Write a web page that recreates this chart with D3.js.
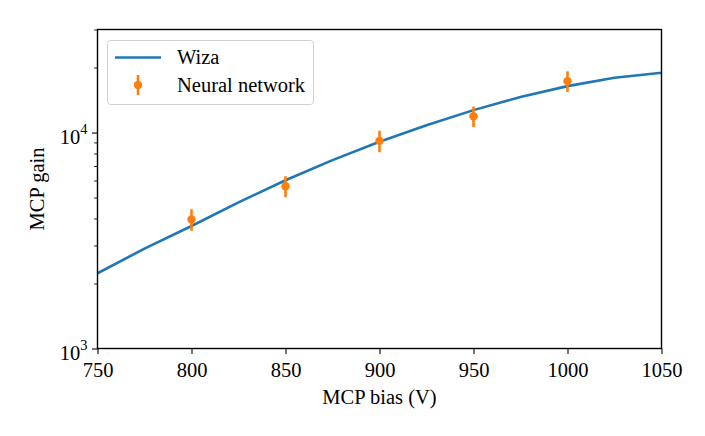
<!DOCTYPE html>
<html><head><meta charset="utf-8">
<script src="https://cdn.jsdelivr.net/npm/d3@7"></script>
<style>body{margin:0;background:#fff}svg{display:block}svg text{font-family:"Liberation Serif","Times New Roman","DejaVu Serif",serif !important}</style>
</head><body><svg id="c" width="705" height="436"></svg>
<script>
const wizaBias = [750,775,800,825,850,875,900,925,950,975,1000,1025,1050];
const wizaGain = [2230,2900,3690,4750,6010,7450,9060,10800,12700,14600,16400,17950,18920];
const nnBias = [800,850,900,950,1000];
const nnGain = [3960,5640,9150,11900,17300];
const nnErr = [450,630,1050,1300,1900];
const xTicks = [750,800,850,900,950,1000,1050];
const yMajor = [1000,10000];
const yMinor = [2000,3000,4000,5000,6000,7000,8000,9000,20000,30000];

const FONT = "Liberation Serif";
const svg = d3.select("#c");
const L=97.5, R=661.5, T=29.5, B=348.5;
const x = d3.scaleLinear().domain([750,1050]).range([L,R]);
const y = d3.scaleLog().domain([1000,30000]).range([B,T]);
const fs = 20.5;

svg.append("defs").append("clipPath").attr("id","clip").append("rect")
  .attr("x",L).attr("y",T).attr("width",R-L).attr("height",B-T);

const g = svg.append("g").attr("clip-path","url(#clip)");
g.append("path").datum(wizaBias.map((b,i)=>[b,wizaGain[i]]))
  .attr("fill","none").attr("stroke","#1f77b4").attr("stroke-width",2.6)
  .attr("d", d3.line().x(d=>x(d[0])).y(d=>y(d[1])));

const pts = nnBias.map((b,i)=>({b,v:nnGain[i],e:nnErr[i]}));
g.selectAll(".eb").data(pts).enter().append("line")
  .attr("x1",d=>x(d.b)).attr("x2",d=>x(d.b))
  .attr("y1",d=>y(d.v-d.e)).attr("y2",d=>y(d.v+d.e))
  .attr("stroke","#ff7f0e").attr("stroke-width",2.6);
g.selectAll(".pt").data(pts).enter().append("circle")
  .attr("cx",d=>x(d.b)).attr("cy",d=>y(d.v)).attr("r",4.2).attr("fill","#ff7f0e");

svg.append("rect").attr("x",L).attr("y",T).attr("width",R-L).attr("height",B-T)
  .attr("fill","none").attr("stroke","#000").attr("stroke-width",1.4);

const xa = svg.append("g").attr("transform",`translate(0,${B})`)
  .call(d3.axisBottom(x).tickValues(xTicks).tickSize(5.5).tickPadding(6).tickFormat(d3.format("d")));
xa.attr("font-family",FONT);
xa.select(".domain").remove();
xa.selectAll("line").attr("stroke-width",1.1);
xa.selectAll("text").attr("font-size",fs).attr("font-family",FONT).attr("fill","#000")
  .attr("dy",null).attr("y",28.5);

const ya2 = svg.append("g").attr("transform",`translate(${L},0)`)
  .call(d3.axisLeft(y).tickValues(yMinor).tickSize(3.3).tickFormat(""));
ya2.select(".domain").remove();
ya2.selectAll("line").attr("stroke-width",0.9);
const ya = svg.append("g").attr("transform",`translate(${L},0)`)
  .call(d3.axisLeft(y).tickValues(yMajor).tickSize(5.5).tickFormat(""));
ya.select(".domain").remove();
ya.selectAll("line").attr("stroke-width",1.1);
yMajor.forEach(v=>{
  const t = svg.append("text").attr("x",L-10).attr("y",y(v)+11).attr("text-anchor","end")
    .attr("font-size",fs).attr("font-family",FONT).attr("fill","#000");
  t.append("tspan").text("10");
  t.append("tspan").attr("font-size",14.5).attr("dy",-10).text(Math.round(Math.log10(v)));
});

svg.append("text").attr("x",(L+R)/2).attr("y",404).attr("text-anchor","middle")
  .attr("font-size",fs).attr("font-family",FONT).text("MCP bias (V)");
svg.append("text").attr("transform",`translate(44,${(T+B)/2}) rotate(-90)`)
  .attr("text-anchor","middle").attr("font-size",fs).attr("font-family",FONT).text("MCP gain");

const lg = svg.append("g");
lg.append("rect").attr("x",107.5).attr("y",40.5).attr("width",206).attr("height",64).attr("rx",3)
  .attr("fill","#fff").attr("fill-opacity",0.8).attr("stroke","#d0d0d0").attr("stroke-width",1);
lg.append("line").attr("x1",115).attr("x2",161).attr("y1",57.5).attr("y2",57.5)
  .attr("stroke","#1f77b4").attr("stroke-width",2.6);
lg.append("text").attr("x",177).attr("y",64).attr("font-size",fs).attr("font-family",FONT).text("Wiza");
lg.append("line").attr("x1",138).attr("x2",138).attr("y1",75).attr("y2",95)
  .attr("stroke","#ff7f0e").attr("stroke-width",2.6);
lg.append("circle").attr("cx",138).attr("cy",85).attr("r",4.2).attr("fill","#ff7f0e");
lg.append("text").attr("x",177).attr("y",92).attr("font-size",fs).attr("font-family",FONT).text("Neural network");
</script></body></html>
